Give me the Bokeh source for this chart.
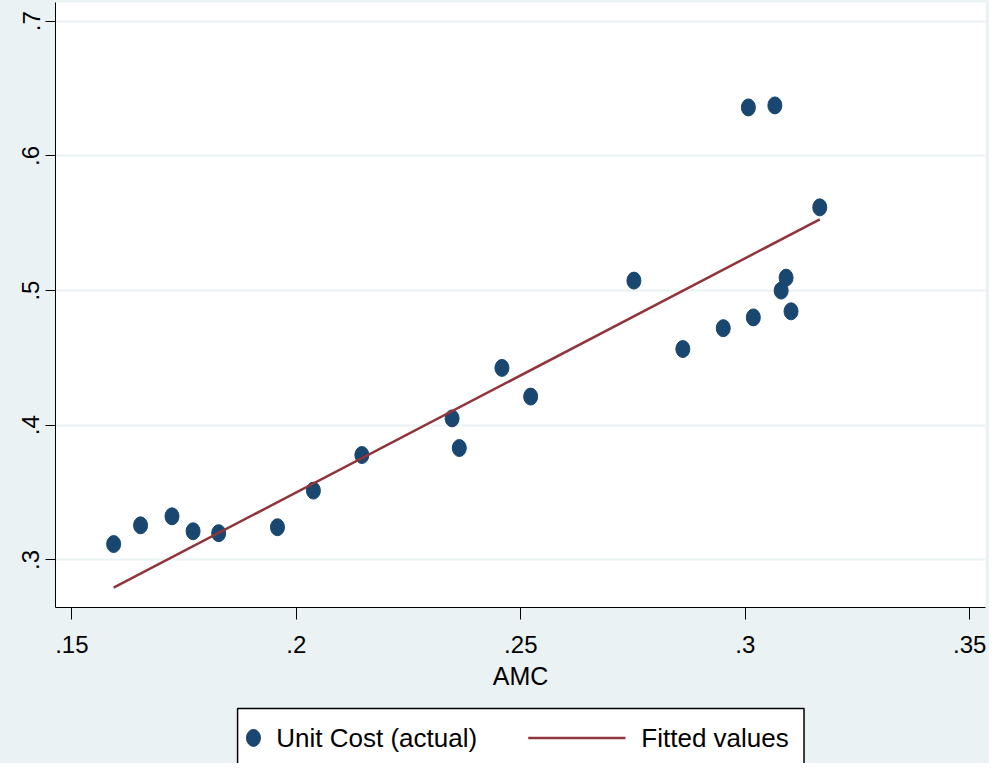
from bokeh.plotting import figure
from bokeh.layouts import column
from bokeh.models import FixedTicker, Range1d
from bokeh.core.properties import value
from bokeh.embed import file_html
from bokeh.resources import INLINE

# ---- data ----
amc = [0.1593, 0.1653, 0.1723, 0.1770, 0.1827, 0.1958, 0.2038, 0.2146,
       0.2347, 0.2363, 0.2458, 0.2522, 0.2752, 0.2861, 0.2951, 0.3007,
       0.3018, 0.3066, 0.3080, 0.3091, 0.3102, 0.3166]
unit_cost = [0.3118, 0.3257, 0.3324, 0.3213, 0.3199, 0.3243, 0.3515, 0.3779,
             0.4051, 0.3831, 0.4426, 0.4213, 0.5074, 0.4566, 0.4721, 0.6360,
             0.4801, 0.6375, 0.5000, 0.5096, 0.4846, 0.5618]
fit_x = [0.1593, 0.3166]
fit_y = [0.2794, 0.5529]

x_ticks = [0.15, 0.2, 0.25, 0.3, 0.35]
x_tick_labels = [".15", ".2", ".25", ".3", ".35"]
y_ticks = [0.3, 0.4, 0.5, 0.6, 0.7]
y_tick_labels = [".3", ".4", ".5", ".6", ".7"]
legend_labels = ["Unit Cost (actual)", "Fitted values"]

# ---- style ----
BG = "#EAF2F3"
NAVY = "#1A476F"
MAROON = "#90353B"
FONT = "Liberation Sans"
W = 989

# ---- main plot ----
p = figure(width=W, height=703, output_backend="svg", toolbar_location=None,
           x_range=Range1d(0.14635, 0.35352), y_range=Range1d(0.2647, 0.7139),
           min_border_left=55, min_border_right=4, min_border_top=2,
           min_border_bottom=96,
           background_fill_color="white", border_fill_color=BG)
p.outline_line_color = None

p.ygrid.ticker = FixedTicker(ticks=y_ticks)
p.ygrid.grid_line_color = BG
p.ygrid.grid_line_width = 2
p.xgrid.visible = False

pts = p.ellipse(x=amc, y=unit_cost, width=14, height=17,
                width_units="screen", height_units="screen",
                fill_color=NAVY, line_color=NAVY)
fit = p.line(fit_x, fit_y, line_color=MAROON, line_width=2.5)

p.xaxis.ticker = FixedTicker(ticks=x_ticks)
p.xaxis.major_label_overrides = dict(zip(x_ticks, x_tick_labels))
p.yaxis.ticker = FixedTicker(ticks=y_ticks)
p.yaxis.major_label_overrides = dict(zip(y_ticks, y_tick_labels))
p.yaxis.major_label_orientation = "vertical"
p.xaxis.axis_label = "AMC"
for ax in (p.xaxis, p.yaxis):
    ax.axis_line_color = "black"
    ax.axis_line_width = 1
    ax.major_tick_line_color = "black"
    ax.major_tick_out = 10
    ax.major_tick_in = 0
    ax.minor_tick_out = 0
    ax.minor_tick_in = 0
    ax.major_label_text_font = FONT
    ax.major_label_text_font_size = "24px"
    ax.major_label_text_color = "black"
    ax.axis_label_text_font = FONT
    ax.axis_label_text_font_size = "25px"
    ax.axis_label_text_font_style = "normal"
    ax.axis_label_text_color = "black"
p.xaxis.major_tick_out = 12
p.xaxis.major_label_standoff = 16
p.xaxis.axis_label_standoff = 6
p.yaxis.major_label_standoff = 6

# ---- legend strip (coordinates in reference pixels, frame aligned with plot) ----
lg = figure(width=W, height=60, output_backend="svg", toolbar_location=None,
            x_range=Range1d(55.44, 992.96), y_range=Range1d(771, 710),
            min_border_left=55, min_border_right=4, min_border_top=0,
            min_border_bottom=0, x_axis_location=None, y_axis_location=None,
            background_fill_color=None, border_fill_color=None)
lg.outline_line_color = None
lg.grid.visible = False
lg.quad(left=[239], right=[810], top=[715], bottom=[776],
        fill_color="white", line_color="black", line_width=1.5)
lg.ellipse(x=[255], y=[745], width=14, height=17,
           width_units="screen", height_units="screen",
           fill_color=NAVY, line_color=NAVY)
lg.line(x=[532, 630], y=[745, 745], line_color=MAROON, line_width=2.5)
lg.text(x=[278, 646], y=[745, 745], text=legend_labels,
        text_font=value(FONT), text_font_size="26px",
        text_baseline="middle", text_align="left", text_color="black")

layout = column(p, lg, spacing=0, styles={"background-color": BG})
open("out.html", "w").write(file_html(layout, INLINE))
